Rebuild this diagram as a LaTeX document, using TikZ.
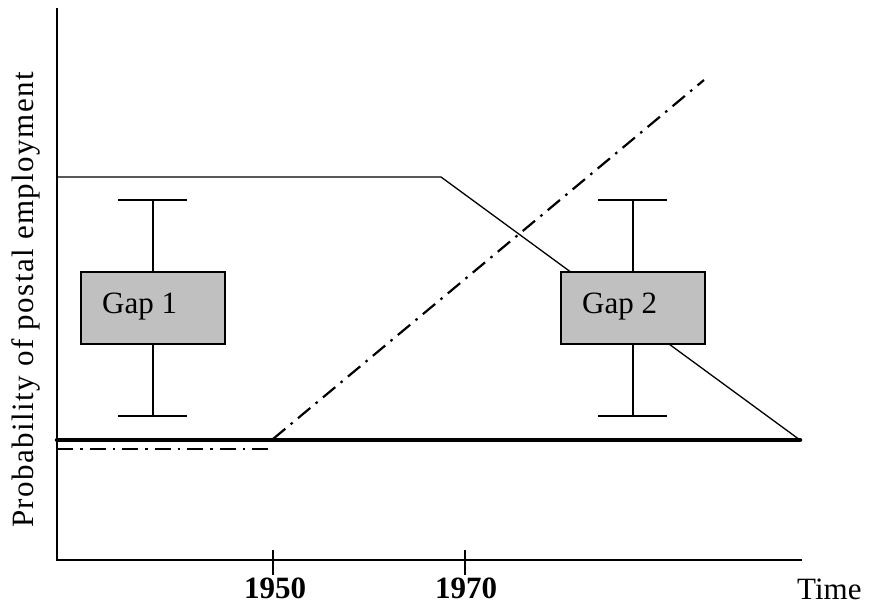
\documentclass[tikz,border=0pt]{standalone}
\usepackage{fontspec}
\setmainfont{Liberation Serif}
\begin{document}
\begin{tikzpicture}[x=1pt,y=-1pt,
  axis/.style={line width=1.8pt},
  thin line/.style={line width=1.3pt},
  thick line/.style={line width=4.5pt},
  dashdot line/.style={line width=2.2pt, dash pattern=on 16pt off 7pt on 2.5pt off 7pt},
  gapbox/.style={draw, line width=1.7pt, fill={rgb,255:red,192;green,192;blue,192}, minimum width=144pt, minimum height=72pt, inner sep=0pt},
  lbl/.style={font=\fontsize{31}{37}\selectfont, inner sep=0pt},
  yearlbl/.style={font=\fontsize{31}{37}\selectfont\bfseries, inner sep=0pt, anchor=base},
  whisk/.style={line width=1.5pt}
]
\useasboundingbox (0,0) rectangle (870,607);
% axes
\coordinate (origin) at (57,560);
\coordinate (ytop) at (57,8);
\coordinate (xend) at (802,560);
\draw[axis] (ytop) -- (origin) -- (xend);
% ticks
\coordinate (t50a) at (273,550); \coordinate (t50b) at (273,575);
\coordinate (t70a) at (465,550); \coordinate (t70b) at (465,575);
\draw[thin line] (t50a) -- (t50b);
\draw[thin line] (t70a) -- (t70b);
\node[yearlbl] (y1950) at (275,598) {1950};
\node[yearlbl] (y1970) at (466,598) {1970};
\node[lbl, anchor=base west] (time) at (797,599) {Time};
\node[lbl, rotate=90, anchor=base] (ylab) at (33,300) {\addfontfeature{LetterSpace=4.6}Probability of postal employment};
% lines
\coordinate (thickL) at (57,440);
\coordinate (endpt) at (800,440);
\coordinate (topL) at (57,177);
\coordinate (knee) at (441,177);
\coordinate (ddL) at (57,449);
\coordinate (ddM) at (273,449);
\coordinate (ddS) at (273,439);
\coordinate (ddE) at (704,80);
\draw[thin line] (topL) -- (knee) -- (endpt);
\draw[dashdot line] (ddL) -- (ddM);
\draw[dashdot line] (ddS) -- (ddE);
\draw[thick line, line cap=round] (thickL) -- (endpt);
% gap 1
\coordinate (g1top) at (153,200); \coordinate (g1bot) at (153,416);
\coordinate (g1tl) at (118,200); \coordinate (g1tr) at (187,200);
\coordinate (g1bl) at (118,416); \coordinate (g1br) at (187,416);
\draw[whisk] (g1top) -- (153,308);
\draw[whisk] (g1bot) -- (153,308);
\draw[whisk] (g1tl) -- (g1tr);
\draw[whisk] (g1bl) -- (g1br);
\node[gapbox] (gap1) at (153,308) {};
\node[lbl, anchor=base west] (gap1t) at (102,313) {Gap 1};
% gap 2
\coordinate (g2top) at (633,200); \coordinate (g2bot) at (633,416);
\coordinate (g2tl) at (598,200); \coordinate (g2tr) at (667,200);
\coordinate (g2bl) at (598,416); \coordinate (g2br) at (667,416);
\draw[whisk] (g2top) -- (633,308);
\draw[whisk] (g2bot) -- (633,308);
\draw[whisk] (g2tl) -- (g2tr);
\draw[whisk] (g2bl) -- (g2br);
\node[gapbox] (gap2) at (633,308) {};
\node[lbl, anchor=base west] (gap2t) at (582,313) {Gap 2};
\end{tikzpicture}
\end{document}
